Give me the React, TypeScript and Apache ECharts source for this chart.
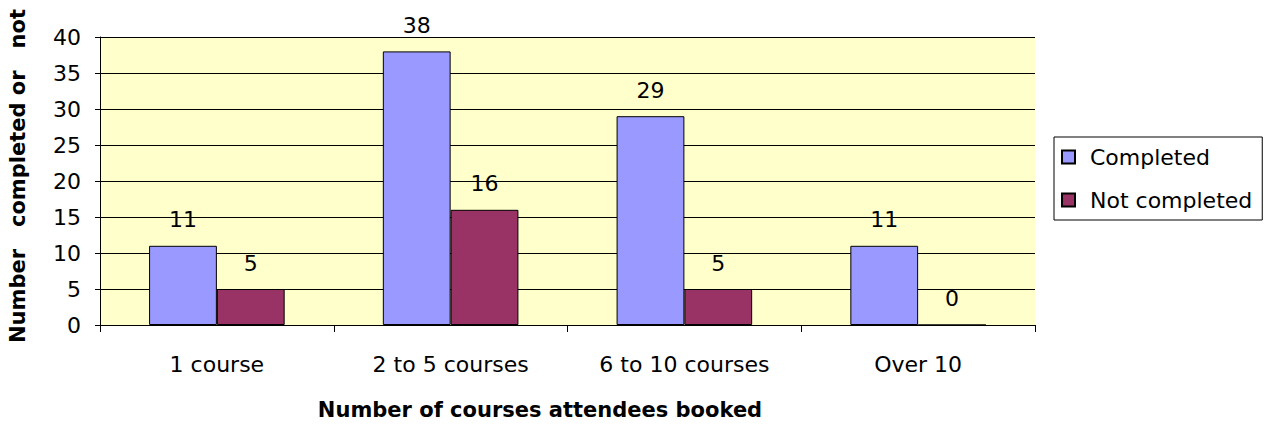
import React, { useEffect, useRef } from "react";
import * as echarts from "echarts";

const categories = ["1 course", "2 to 5 courses", "6 to 10 courses", "Over 10"];
const completed = [11, 38, 29, 11];
const notCompleted = [5, 16, 5, 0];
const yTicks = { min: 0, max: 40, interval: 5 };
const yTitle = "Number   completed or   not";
const xTitle = "Number of courses attendees booked";

const FONT = "DejaVu Sans, Verdana, sans-serif";

export default function App() {
  const ref = useRef<HTMLDivElement>(null);
  useEffect(() => {
    if (!ref.current) return;
    const chart = echarts.init(ref.current, null, { renderer: "svg" });
    const labelStyle = {
      show: true,
      position: "top" as const,
      distance: 15,
      color: "#000",
      fontSize: 22,
      fontFamily: FONT,
    };
    chart.setOption({
      animation: false,
      backgroundColor: "#ffffff",
      grid: {
        left: 100,
        right: 233,
        top: 37,
        bottom: 102,
        show: true,
        backgroundColor: "#FFFFCC",
        borderWidth: 0,
        outerBoundsMode: "none",
        containLabel: false,
      },
      graphic: [
        {
          type: "text",
          x: 18,
          y: 176,
          rotation: Math.PI / 2,
          style: {
            text: yTitle,
            fontSize: 21,
            fontWeight: "bold",
            fill: "#000",
            fontFamily: FONT,
            align: "center",
            verticalAlign: "middle",
          },
        },
        {
          type: "text",
          x: 540,
          y: 410,
          style: {
            text: xTitle,
            fontSize: 21,
            fontWeight: "bold",
            fill: "#000",
            fontFamily: FONT,
            align: "center",
            verticalAlign: "middle",
          },
        },
      ],
      legend: {
        orient: "vertical",
        left: 1054,
        top: 137,
        padding: [9, 10, 9, 7],
        itemGap: 21,
        itemWidth: 13,
        itemHeight: 13,
        borderColor: "#000",
        borderWidth: 1,
        icon: "rect",
        textStyle: {
          fontSize: 22,
          color: "#000",
          fontFamily: FONT,
          padding: [0, 0, 0, 10],
        },
        data: ["Completed", "Not completed"],
      },
      xAxis: {
        type: "category",
        data: categories,
        axisLine: { lineStyle: { color: "#000", width: 1 } },
        axisTick: { show: true, length: 7, lineStyle: { color: "#000" } },
        axisLabel: {
          margin: 28,
          fontSize: 22,
          color: "#000",
          fontFamily: FONT,
        },
      },
      yAxis: {
        type: "value",
        min: yTicks.min,
        max: yTicks.max,
        interval: yTicks.interval,
        axisLine: { show: true, lineStyle: { color: "#000", width: 1 } },
        axisTick: { show: true, length: 5, lineStyle: { color: "#000" } },
        splitLine: { show: true, lineStyle: { color: "#000", width: 1 } },
        axisLabel: {
          margin: 19,
          fontSize: 22,
          color: "#000",
          fontFamily: FONT,
        },
      },
      series: [
        {
          name: "Completed",
          type: "bar",
          data: completed,
          barGap: "0%",
          barCategoryGap: "42%",
          itemStyle: { color: "#9999FF", borderColor: "#000", borderWidth: 1 },
          label: labelStyle,
        },
        {
          name: "Not completed",
          type: "bar",
          data: notCompleted,
          barGap: "0%",
          barCategoryGap: "42%",
          itemStyle: { color: "#993366", borderColor: "#000", borderWidth: 1 },
          label: labelStyle,
        },
      ],
    });
    return () => chart.dispose();
  }, []);
  return (
    <div
      ref={ref}
      style={{ position: "absolute", left: 0, top: 0, width: 1268, height: 427 }}
    />
  );
}
